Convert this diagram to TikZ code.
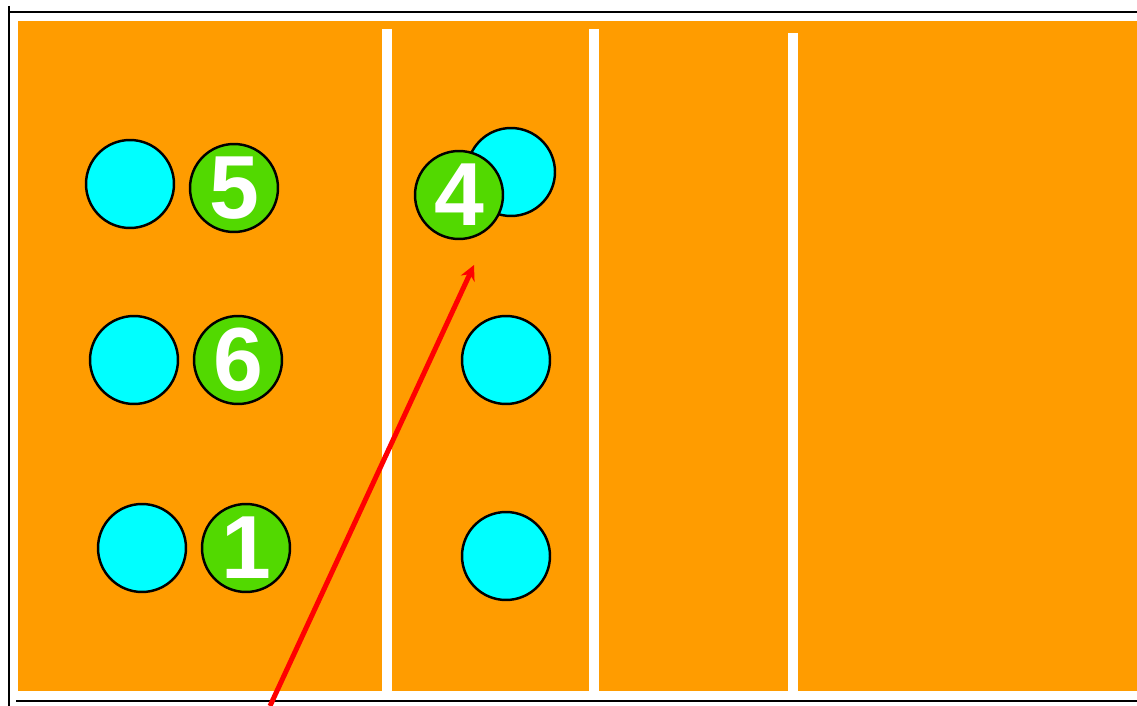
\documentclass[tikz,border=0pt]{standalone}
\usepackage{fontspec}
\setmainfont{Liberation Sans}
\usetikzlibrary{arrows.meta}
\definecolor{courtorange}{RGB}{255,156,0}
\definecolor{ballcyan}{RGB}{0,255,255}
\definecolor{ballgreen}{RGB}{82,217,0}
\tikzset{
  cyanball/.style={circle,draw=black,line width=1.4pt,fill=ballcyan,minimum size=1.76cm,inner sep=0pt},
  greenball/.style={circle,draw=black,line width=1.4pt,fill=ballgreen,minimum size=1.76cm,inner sep=0pt,
    text=white,font=\fontsize{51}{51}\selectfont\bfseries},
  courtline/.style={white,line width=0.2cm},
  frameline/.style={black,line width=0.05cm}
}
\begin{document}
\begin{tikzpicture}[x=0.02cm,y=-0.02cm]
\useasboundingbox (0,0) rectangle (1137,706);
% court
\fill [courtorange] (18,21) rectangle (1137,691);
\draw [courtline] (387,29)--(387,691);
\draw [courtline] (594,29)--(594,691);
\draw [courtline] (793,33)--(793,691);
% frame
\draw [frameline] (9,6)--(9,706);
\draw [frameline] (9,12)--(1137,12);
\draw [frameline] (16,701)--(1137,701);

% players
\node [cyanball] (c1) at (130,184) {};
\node [cyanball] (c2) at (134,360) {};
\node [cyanball] (c3) at (142,548) {};
\node [cyanball] (c4) at (511,172) {};
\node [cyanball] (c5) at (506,360) {};
\node [cyanball] (c6) at (506,556) {};

\node [greenball] (p5) at (234,188) {5};
\node [greenball] (p6) at (238,360) {6};
\node [greenball] (p1) at (246,548) {1};
\node [greenball] (p4) at (459,195) {\raisebox{-3pt}{4}};

% serve
\coordinate (serve) at (270,706);
\coordinate (target) at (474,265);
\draw [->,>={Stealth[length=0.3cm,width=0.3cm]},red,line width=0.1cm] (serve)--(target);
\end{tikzpicture}
\end{document}
